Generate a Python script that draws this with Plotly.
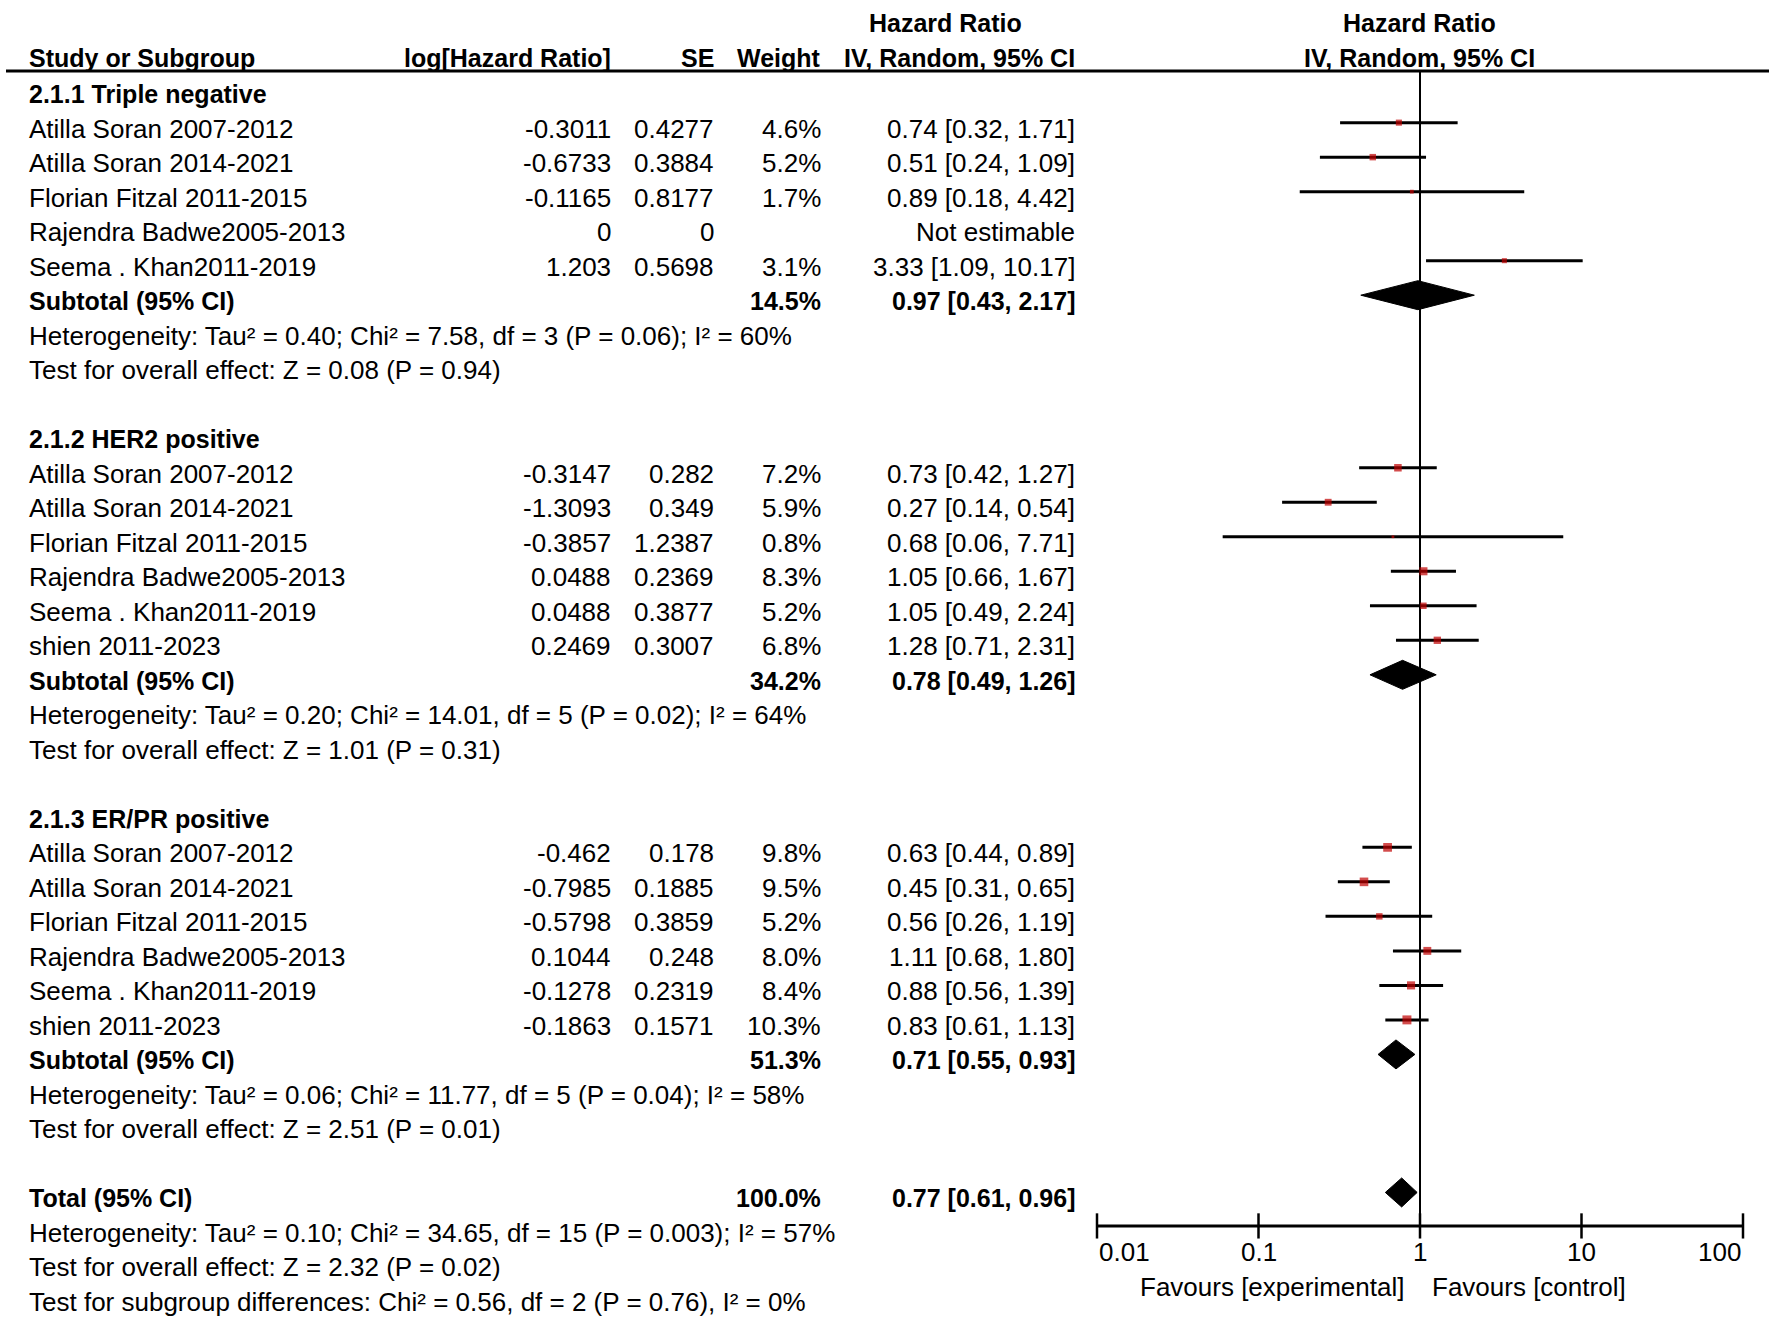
import numpy as np
import plotly.graph_objects as go

# study level data (three subgroups)
study_names = [
    "Atilla Soran 2007-2012", "Atilla Soran 2014-2021", "Florian Fitzal 2011-2015",
    "Rajendra Badwe2005-2013", "Seema . Khan2011-2019",
    "Atilla Soran 2007-2012", "Atilla Soran 2014-2021", "Florian Fitzal 2011-2015",
    "Rajendra Badwe2005-2013", "Seema . Khan2011-2019", "shien 2011-2023",
    "Atilla Soran 2007-2012", "Atilla Soran 2014-2021", "Florian Fitzal 2011-2015",
    "Rajendra Badwe2005-2013", "Seema . Khan2011-2019", "shien 2011-2023",
]
study_group = [0, 0, 0, 0, 0, 1, 1, 1, 1, 1, 1, 2, 2, 2, 2, 2, 2]
log_hr = [-0.3011, -0.6733, -0.1165, 0, 1.203,
          -0.3147, -1.3093, -0.3857, 0.0488, 0.0488, 0.2469,
          -0.462, -0.7985, -0.5798, 0.1044, -0.1278, -0.1863]
se = [0.4277, 0.3884, 0.8177, 0, 0.5698,
      0.282, 0.349, 1.2387, 0.2369, 0.3877, 0.3007,
      0.178, 0.1885, 0.3859, 0.248, 0.2319, 0.1571]
weight = [4.6, 5.2, 1.7, None, 3.1,
          7.2, 5.9, 0.8, 8.3, 5.2, 6.8,
          9.8, 9.5, 5.2, 8.0, 8.4, 10.3]
hr = [0.74, 0.51, 0.89, None, 3.33,
      0.73, 0.27, 0.68, 1.05, 1.05, 1.28,
      0.63, 0.45, 0.56, 1.11, 0.88, 0.83]
ci_lo = [0.32, 0.24, 0.18, None, 1.09,
         0.42, 0.14, 0.06, 0.66, 0.49, 0.71,
         0.44, 0.31, 0.26, 0.68, 0.56, 0.61]
ci_hi = [1.71, 1.09, 4.42, None, 10.17,
         1.27, 0.54, 7.71, 1.67, 2.24, 2.31,
         0.89, 0.65, 1.19, 1.80, 1.39, 1.13]

# subgroup summaries
subgroup_titles = ["2.1.1 Triple negative", "2.1.2 HER2 positive", "2.1.3 ER/PR positive"]
subtotal_weight = [14.5, 34.2, 51.3]
subtotal_hr = [0.97, 0.78, 0.71]
subtotal_lo = [0.43, 0.49, 0.55]
subtotal_hi = [2.17, 1.26, 0.93]
heterogeneity = [
    "Heterogeneity: Tau² = 0.40; Chi² = 7.58, df = 3 (P = 0.06); I² = 60%",
    "Heterogeneity: Tau² = 0.20; Chi² = 14.01, df = 5 (P = 0.02); I² = 64%",
    "Heterogeneity: Tau² = 0.06; Chi² = 11.77, df = 5 (P = 0.04); I² = 58%",
]
overall_effect = [
    "Test for overall effect: Z = 0.08 (P = 0.94)",
    "Test for overall effect: Z = 1.01 (P = 0.31)",
    "Test for overall effect: Z = 2.51 (P = 0.01)",
]

# overall
total_weight = 100.0
total_hr = 0.77
total_lo = 0.61
total_hi = 0.96
total_notes = [
    "Heterogeneity: Tau² = 0.10; Chi² = 34.65, df = 15 (P = 0.003); I² = 57%",
    "Test for overall effect: Z = 2.32 (P = 0.02)",
    "Test for subgroup differences: Chi² = 0.56, df = 2 (P = 0.76), I² = 0%",
]

tick_vals = [0.01, 0.1, 1, 10, 100]
tick_text = ["0.01", "0.1", "1", "10", "100"]

# layout (pixels)
W, H = 1772, 1320
ROW0, ROWH = 94, 34.51
FONT = "Liberation Sans"
FS, FS_BOLD = 26, 25
NAME_X, LOG_X, SE_X, WT_X, CI_X = 27, 613, 716, 823, 1077
MARK_DY = -0.17
DIAMOND_H = 0.42


def px(x):
    return x / W


annotations = []


def txt(x, row, s, anchor="left", bold=False, xref="paper"):
    annotations.append(dict(
        x=px(x) if xref == "paper" else x, y=row, xref=xref, yref="y",
        text=f"<b>{s}</b>" if bold else s, showarrow=False,
        xanchor=anchor, yanchor="middle",
        font=dict(family=FONT, size=FS_BOLD if bold else FS, color="black")))


# headers
txt(945, -2.06, "Hazard Ratio", "center", True)
txt(1419, -2.06, "Hazard Ratio", "center", True)
txt(27, -1.04, "Study or Subgroup", "left", True)
txt(LOG_X, -1.04, "log[Hazard Ratio]", "right", True)
txt(SE_X, -1.04, "SE", "right", True)
txt(WT_X, -1.04, "Weight", "right", True)
txt(CI_X, -1.04, "IV, Random, 95% CI", "right", True)
txt(1419, -1.04, "IV, Random, 95% CI", "center", True)
header_line = -0.67

ci_x, ci_y = [], []
mk_x, mk_y, mk_s = [], [], []
diamonds = []

row = 0
for g, title in enumerate(subgroup_titles):
    txt(NAME_X, row, title, bold=True)
    row += 1
    for i in [k for k, sg in enumerate(study_group) if sg == g]:
        txt(NAME_X, row, study_names[i])
        txt(LOG_X, row, f"{log_hr[i]:g}", "right")
        txt(SE_X, row, f"{se[i]:g}", "right")
        if hr[i] is None:
            txt(CI_X, row, "Not estimable", "right")
        else:
            txt(WT_X, row, f"{weight[i]:.1f}%", "right")
            txt(CI_X, row, f"{hr[i]:.2f} [{ci_lo[i]:.2f}, {ci_hi[i]:.2f}]", "right")
            ci_x += [ci_lo[i], ci_hi[i], None]
            ci_y += [row + MARK_DY, row + MARK_DY, None]
            mk_x.append(hr[i])
            mk_y.append(row + MARK_DY)
            mk_s.append(2.7 * np.sqrt(weight[i]) + 0.3)
        row += 1
    txt(NAME_X, row, "Subtotal (95% CI)", bold=True)
    txt(WT_X, row, f"{subtotal_weight[g]:.1f}%", "right", True)
    txt(CI_X, row, f"{subtotal_hr[g]:.2f} [{subtotal_lo[g]:.2f}, {subtotal_hi[g]:.2f}]", "right", True)
    diamonds.append((subtotal_lo[g], subtotal_hr[g], subtotal_hi[g], row + MARK_DY))
    row += 1
    txt(NAME_X, row, heterogeneity[g])
    row += 1
    txt(NAME_X, row, overall_effect[g])
    row += 2

txt(NAME_X, row, "Total (95% CI)", bold=True)
txt(WT_X, row, f"{total_weight:.1f}%", "right", True)
txt(CI_X, row, f"{total_hr:.2f} [{total_lo:.2f}, {total_hi:.2f}]", "right", True)
diamonds.append((total_lo, total_hr, total_hi, row + MARK_DY))
total_row = row
for note in total_notes:
    row += 1
    txt(NAME_X, row, note)

axis_row = total_row + 0.8
for v, t in zip(tick_vals, tick_text):
    anchor = "left" if v == tick_vals[0] else ("right" if v == tick_vals[-1] else "center")
    txt(np.log10(v), axis_row + 0.76, t, anchor, xref="x")
txt(1406, axis_row + 1.77, "Favours [experimental]", "right")
txt(1430, axis_row + 1.77, "Favours [control]", "left")

fig = go.Figure()

# line of no effect
fig.add_trace(go.Scatter(x=[1, 1], y=[header_line, axis_row], mode="lines",
                         line=dict(color="black", width=2), hoverinfo="skip"))
# confidence intervals
fig.add_trace(go.Scatter(x=ci_x, y=ci_y, mode="lines",
                         line=dict(color="black", width=3), hoverinfo="skip"))
# study estimates
fig.add_trace(go.Scatter(x=mk_x, y=mk_y, mode="markers",
                         marker=dict(symbol="square", color="#c00000", size=mk_s, line=dict(width=0))))
# pooled diamonds
for lo, est, hi, r in diamonds:
    fig.add_trace(go.Scatter(x=[lo, est, hi, est, lo], y=[r, r - DIAMOND_H, r, r + DIAMOND_H, r],
                             mode="lines", fill="toself", fillcolor="black",
                             line=dict(color="black", width=1), hoverinfo="skip"))
# x axis line and ticks
fig.add_trace(go.Scatter(x=[tick_vals[0], tick_vals[-1]], y=[axis_row, axis_row], mode="lines",
                         line=dict(color="black", width=3), hoverinfo="skip", cliponaxis=False))
fig.add_trace(go.Scatter(x=tick_vals, y=[axis_row] * len(tick_vals), mode="markers",
                         marker=dict(symbol="line-ns", size=18, line=dict(color="black", width=2.5)),
                         hoverinfo="skip", cliponaxis=False))

fig.update_layout(
    width=W, height=H,
    margin=dict(l=0, r=0, t=0, b=0),
    paper_bgcolor="white", plot_bgcolor="white",
    showlegend=False,
    annotations=annotations,
    shapes=[dict(type="line", xref="paper", yref="y", x0=px(6), x1=px(1769),
                 y0=header_line, y1=header_line, line=dict(color="black", width=3))],
    xaxis=dict(type="log", range=[-2, 2], domain=[px(1097), px(1743)], visible=False),
    yaxis=dict(range=[(H - ROW0) / ROWH, -ROW0 / ROWH], visible=False),
)

# the page's default body margin would push the figure 8px right and down
fig.write_html("out.html", config={"displayModeBar": False},
               post_script="document.body.style.margin = '0';")
